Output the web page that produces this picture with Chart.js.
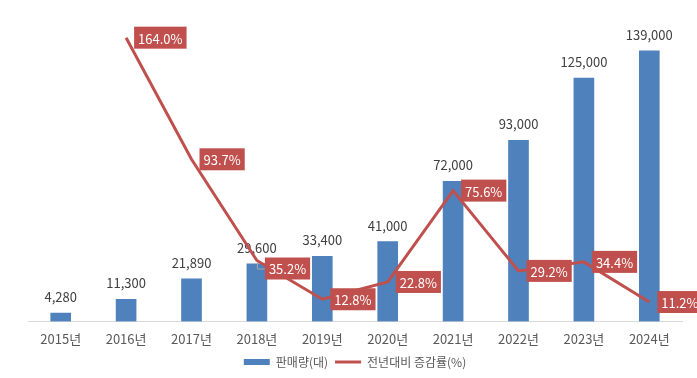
<!DOCTYPE html>
<html>
<head>
<meta charset="utf-8">
<script src="https://cdn.jsdelivr.net/npm/chart.js@4"></script>
<style>
  html, body { margin: 0; padding: 0; background: #fff; }
  #wrap { width: 697px; height: 378px; }
</style>
</head>
<body>
<div id="wrap"><canvas id="salesChart"></canvas></div>
<script>
const years = ['2015년', '2016년', '2017년', '2018년', '2019년', '2020년', '2021년', '2022년', '2023년', '2024년'];
const sales = [4280, 11300, 21890, 29600, 33400, 41000, 72000, 93000, 125000, 139000];
const growth = [null, 164.0, 93.7, 35.2, 12.8, 22.8, 75.6, 29.2, 34.4, 11.2];

const FONT = '"Noto Sans CJK KR", "Noto Sans", sans-serif';
const BAR_COLOR = '#4F81BD';
const LINE_COLOR = '#C0504D';

// value labels: bar numbers above bars, red boxes beside line points
const labelPlugin = {
    id: 'valueLabels',
    afterDatasetDraw(chart, args) {
        if (args.index !== 1) return;
        const ctx = chart.ctx;
        const meta = chart.getDatasetMeta(1);
        ctx.save();
        ctx.font = '13px ' + FONT;
        ctx.fillStyle = '#404040';
        ctx.textAlign = 'center';
        ctx.textBaseline = 'middle';
        meta.data.forEach((bar, i) => {
            ctx.fillText(sales[i].toLocaleString('en-US'), bar.x, bar.y - 16);
        });
        ctx.restore();
    },
    afterDatasetsDraw(chart) {
        const ctx = chart.ctx;
        const meta = chart.getDatasetMeta(0);
        ctx.save();
        ctx.font = '13px ' + FONT;
        ctx.textBaseline = 'middle';
        ctx.textAlign = 'left';
        meta.data.forEach((pt, i) => {
            if (growth[i] === null) return;
            const text = growth[i].toFixed(1) + '%';
            const w = ctx.measureText(text).width + 8;
            const h = 22;
            const x = pt.x + 8;
            // 2018 label was nudged down in the original, with a leader line
            const dy = i === 3 ? 8 : 0;
            const y = pt.y + dy;
            if (dy) {
                ctx.strokeStyle = '#A6A6A6';
                ctx.lineWidth = 1;
                ctx.beginPath();
                ctx.moveTo(pt.x + 0.5, pt.y + 2);
                ctx.lineTo(pt.x + 0.5, y + 0.5);
                ctx.lineTo(x, y + 0.5);
                ctx.stroke();
            }
            ctx.fillStyle = LINE_COLOR;
            ctx.fillRect(x, y - h / 2, w, h);
            ctx.fillStyle = '#ffffff';
            ctx.fillText(text, x + 4, y + 1);
        });
        ctx.restore();
    }
};

new Chart(document.getElementById('salesChart').getContext('2d'), {
    type: 'bar',
    data: {
        labels: years,
        datasets: [{
            type: 'line',
            label: '전년대비 증감률(%)',
            data: growth,
            yAxisID: 'y1',
            borderColor: LINE_COLOR,
            backgroundColor: LINE_COLOR,
            borderWidth: 3,
            pointRadius: 0,
            tension: 0,
            pointStyle: 'line',
            order: 0
        }, {
            label: '판매량(대)',
            data: sales,
            yAxisID: 'y',
            backgroundColor: BAR_COLOR,
            borderWidth: 0,
            barThickness: 20,
            pointStyle: 'rect',
            order: 1
        }]
    },
    options: {
        responsive: true,
        maintainAspectRatio: false,
        animation: false,
        layout: { padding: { left: 28, right: 15, top: 10, bottom: 0 } },
        plugins: {
            tooltip: { enabled: false },
            legend: {
                position: 'bottom',
                reverse: true,
                labels: {
                    usePointStyle: true,
                    pointStyleWidth: 26,
                    boxHeight: 6,
                    padding: 7,
                    color: '#595959',
                    font: { family: FONT, size: 12 }
                }
            }
        },
        scales: {
            x: {
                grid: { display: false },
                border: { color: '#D9D9D9', width: 1 },
                ticks: { color: '#595959', padding: 2, font: { family: FONT, size: 13 } }
            },
            y: { display: false, min: 0, max: 160000 },
            y1: { display: false, min: 0, max: 180 }
        }
    },
    plugins: [labelPlugin]
});
</script>
</body>
</html>
